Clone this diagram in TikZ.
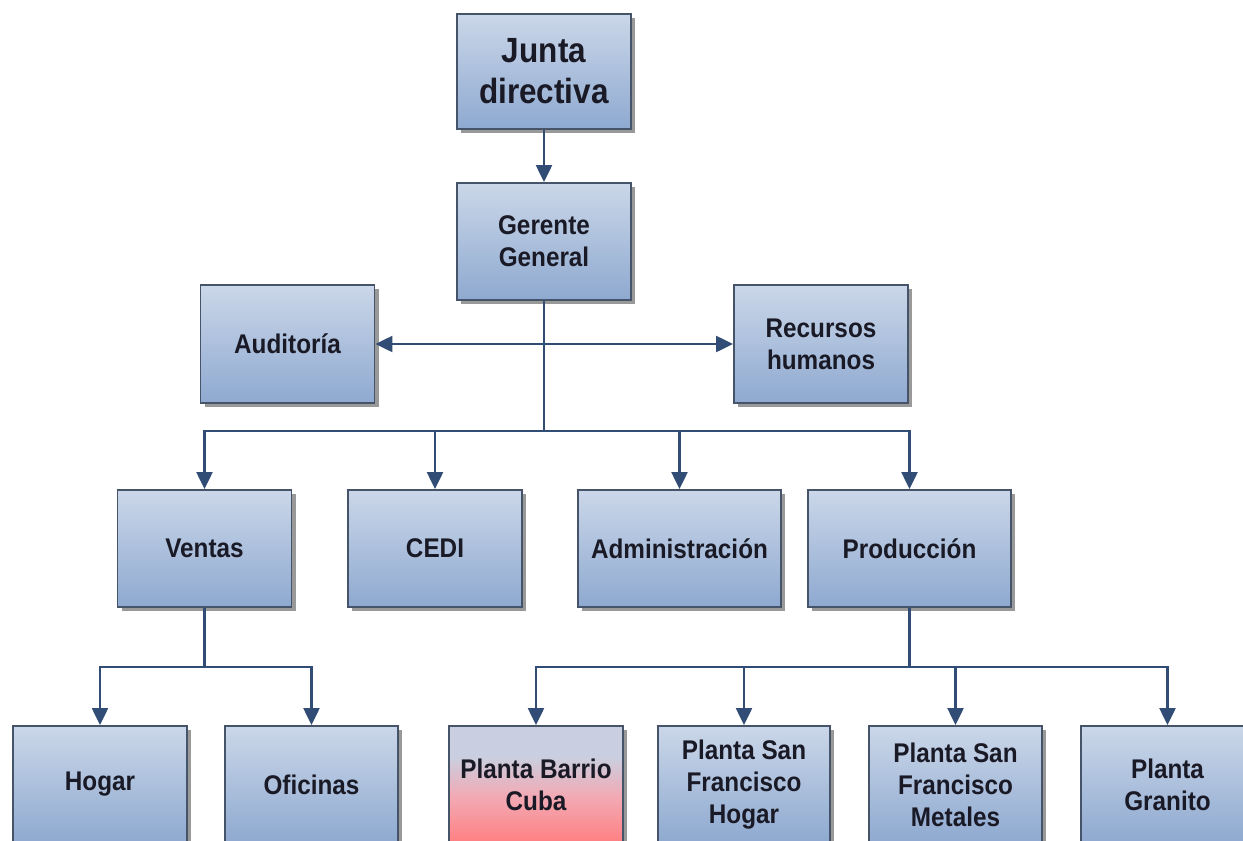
\documentclass[tikz,border=0pt]{standalone}
\usepackage{fontspec}
\setmainfont{Liberation Sans}[FakeStretch=0.9]
\usetikzlibrary{arrows.meta,shadows}

\definecolor{linec}{HTML}{314C75}
\definecolor{boxedge}{HTML}{46546A}
\definecolor{boxtop}{HTML}{CBD7E9}
\definecolor{boxbot}{HTML}{8EA9D0}
\definecolor{txt}{HTML}{1A1A26}
\definecolor{cubatop}{HTML}{C9CFE0}
\definecolor{cubamid}{HTML}{F2AAB4}
\definecolor{cubabot}{HTML}{FF7F82}

% red-tinted fill for the highlighted plant
\pgfdeclareverticalshading{cubashade}{100bp}{%
  color(0bp)=(cubabot); color(25bp)=(cubabot); color(45bp)=(cubamid);
  color(62bp)=(cubatop); color(75bp)=(cubatop); color(100bp)=(cubatop)}

\begin{document}
\begin{tikzpicture}[x=1pt,y=-1pt,
  box/.style={draw=boxedge, line width=1.9pt, top color=boxtop, bottom color=boxbot,
    minimum width=174pt, minimum height=117pt, inner sep=0pt, align=center,
    font=\fontsize{27}{32}\selectfont\bfseries, text=txt,
    drop shadow={shadow xshift=4pt, shadow yshift=-4pt, fill=black, opacity=0.4}},
  widebox/.style={box, minimum width=203pt},
  conn/.style={draw=linec, line width=2.3pt},
  tip/.style={Triangle[width=16pt,length=17pt]},
  arr/.style={conn, -{Triangle[width=16pt,length=17pt]}}]

\useasboundingbox (0,0) rectangle (1243,841);
\clip (0,0) rectangle (1243,841);
\fill[white] (0,0) rectangle (1243,841);

% top levels
\node[box, minimum height=115pt, font=\fontsize{35}{41}\selectfont\bfseries]
  (junta) at (544,71.5) {Junta\\directiva};
\node[box] (gerente) at (544,241.5) {Gerente\\General};
\node[box, minimum height=118pt] (audit) at (287.5,344) {Auditoría};
\node[box, minimum height=118pt] (rrhh) at (821,344) {Recursos\\humanos};

% departments
\node[box] (ventas) at (204.5,548.5) {Ventas};
\node[box] (cedi) at (435,548.5) {CEDI};
\node[widebox] (admin) at (679.5,548.5) {Administración};
\node[widebox] (prod) at (909.5,548.5) {Producción};

% sales units and plants
\node[box] (hogar) at (100,784.5) {Hogar};
\node[box, minimum width=173pt] (oficinas) at (311.5,784.5) {Oficinas};
\node[box, shading=cubashade] (cuba) at (536,784.5) {Planta Barrio\\Cuba};
\node[box, minimum width=172pt] (sfhogar) at (744,784.5) {Planta San\\Francisco\\Hogar};
\node[box, minimum width=173pt] (sfmetal) at (955.5,784.5) {Planta San\\Francisco\\Metales};
\node[box, minimum width=173pt] (granito) at (1167.5,784.5) {Planta\\Granito};

% connectors
\draw[arr] (junta) -- (gerente);
\draw[conn, {Triangle[width=16pt,length=17pt]}-{Triangle[width=16pt,length=17pt]}]
  (audit.east) -- (rrhh.west);

\coordinate (bus) at (542,431);
\draw[conn] (gerente.south) -- (gerente.south |- bus);
\draw[arr] (gerente.south |- bus) -| (ventas.north);
\draw[arr] (gerente.south |- bus) -| (cedi.north);
\draw[arr] (gerente.south |- bus) -| (admin.north);
\draw[arr] (gerente.south |- bus) -| (prod.north);

\coordinate (vbus) at (204,667);
\draw[conn] (ventas.south) -- (ventas.south |- vbus);
\draw[arr] (ventas.south |- vbus) -| (hogar.north);
\draw[arr] (ventas.south |- vbus) -| (oficinas.north);

\coordinate (pbus) at (909,667);
\draw[conn] (prod.south) -- (prod.south |- pbus);
\draw[arr] (prod.south |- pbus) -| (cuba.north);
\draw[arr] (prod.south |- pbus) -| (sfhogar.north);
\draw[arr] (prod.south |- pbus) -| (sfmetal.north);
\draw[arr] (prod.south |- pbus) -| (granito.north);
\end{tikzpicture}
\end{document}
